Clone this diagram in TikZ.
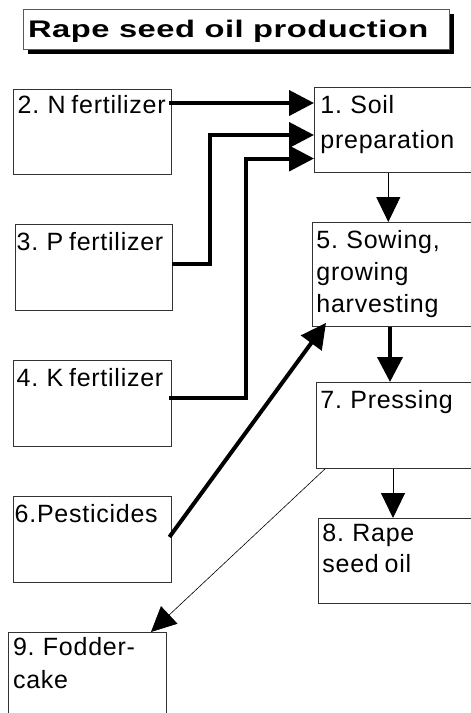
\documentclass[tikz,border=0pt]{standalone}
\usepackage{fontspec}
\usepackage{graphicx}
\setmainfont{Liberation Sans}
\newfontfamily\boxfont[LetterSpace=3,WordSpace=0.75]{Liberation Sans}
\newfontfamily\headfont[LetterSpace=1.5]{Liberation Sans}
\usetikzlibrary{arrows.meta,calc,shadows}
\begin{document}
\begin{tikzpicture}[x=1pt,y=-1pt,
  stepbox/.style={draw=black!80, line width=0.9pt, fill=white, inner sep=0pt,
    anchor=north west},
  boxtext/.style={anchor=north west, inner sep=0pt, align=left,
    font=\boxfont\fontsize{25}{32}\selectfont},
  titlebox/.style={draw=black!65, line width=0.9pt, fill=white, inner sep=0pt,
    anchor=north west,
    drop shadow={shadow xshift=4.5pt, shadow yshift=-4pt, fill=black, opacity=1}},
  heavy/.style={line width=4pt, -{Triangle[length=25pt,width=25pt]}},
  light/.style={line width=1pt, -{Triangle[length=25pt,width=24pt]}},
]
\useasboundingbox (0,0) rectangle (471,713);
\clip (0,0) rectangle (471,713);

% heading
\node[titlebox, minimum width=426.6pt, minimum height=40pt] (title) at (22.7,9.3) {};
\node[anchor=base west, inner sep=0pt] (titletext) at (28,37.3)
  {\resizebox{400pt}{\height}{\headfont\bfseries\fontsize{24}{28}\selectfont Rape seed oil production}};

% process boxes
\node[stepbox, minimum width=158pt, minimum height=85pt]  (n2) at (13,89) {};
\node[stepbox, minimum width=170pt, minimum height=85pt]  (n1) at (314,87) {};
\node[stepbox, minimum width=157pt, minimum height=86pt]  (n3) at (15,224) {};
\node[stepbox, minimum width=170pt, minimum height=104pt] (n5) at (312,222) {};
\node[stepbox, minimum width=158pt, minimum height=86pt]  (n4) at (13,360) {};
\node[stepbox, minimum width=170pt, minimum height=86pt]  (n7) at (316,382) {};
\node[stepbox, minimum width=158pt, minimum height=86pt]  (n6) at (13,496) {};
\node[stepbox, minimum width=170pt, minimum height=85pt]  (n8) at (318,518) {};
\node[stepbox, minimum width=158pt, minimum height=95pt]  (n9) at (8,632) {};

% box texts
\node[boxtext] (t2) at (17.5,95.2)  {2. N fertilizer};
\node[boxtext] (t1) at (320.2,95)   {1. Soil\\[3pt]preparation};
\node[boxtext] (t3) at (16.5,232.2) {3. P fertilizer};
\node[boxtext] (t5) at (316.2,230.2){5. Sowing,\\growing\\harvesting};
\node[boxtext] (t4) at (16.5,368.2) {4. K fertilizer};
\node[boxtext] (t7) at (320.2,390)  {7. Pressing};
\node[boxtext] (t6) at (14.5,504)   {6.Pesticides};
\node[boxtext] (t8) at (322.2,524.2){8. Rape\\[-1pt]seed oil};
\node[boxtext] (t9) at (12.8,637.2) {9. Fodder-\\[1pt]cake};

% fertilizer inputs into soil preparation
\draw[heavy] ($(n2.north east)+(-3,14)$) -- ($(n1.north west)+(0,16)$);
\draw[heavy] ($(n3.north east)+(-1,40)$) -| ($(n1.north west)+(-104,48)$)
  -- ($(n1.north west)+(0,48)$);
\draw[heavy] ($(n4.north east)+(-3,38)$) -| ($(n1.north west)+(-68.5,71.5)$)
  -- ($(n1.north west)+(0,71.5)$);

% main process chain
\draw[light] ($(n1.south west)+(74.3,0)$) -- ($(n5.north west)+(76.3,0)$);
\draw[heavy] ($(n5.south west)+(78,0)$) -- ($(n7.north west)+(74,0)$);
\draw[heavy] ($(n6.north east)+(-2.5,41)$) -- ($(n5.south west)+(14,-4)$);
\draw[light] ($(n7.south west)+(77,0)$) -- ($(n8.north west)+(75,0)$);
\draw[light, line width=0.6pt] ($(n7.south west)+(9,0)$) -- ($(n9.north west)+(143,0)$);
\end{tikzpicture}
\end{document}
